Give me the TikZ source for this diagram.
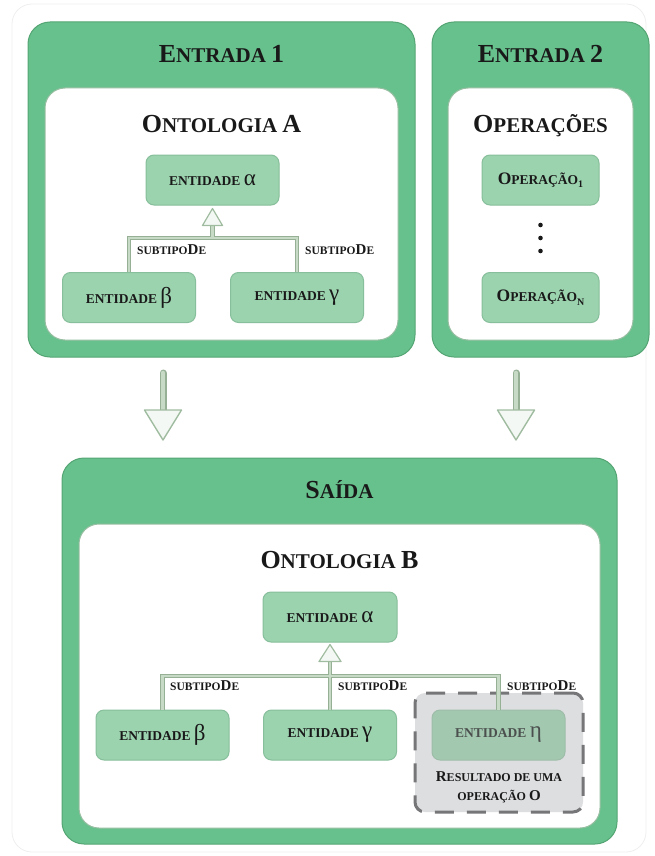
\documentclass[tikz,border=0pt]{standalone}
\usepackage{fontspec}
\setmainfont{Liberation Serif}
\usetikzlibrary{calc}

\definecolor{panelgreen}{RGB}{103,193,141}
\definecolor{paneledge}{RGB}{84,165,115}
\definecolor{whiteedge}{RGB}{150,190,160}
\definecolor{boxgreen}{RGB}{156,211,175}
\definecolor{boxedge}{RGB}{135,190,155}
\definecolor{etagreen}{RGB}{163,200,176}
\definecolor{connout}{RGB}{150,176,150}
\definecolor{connin}{RGB}{198,218,198}
\definecolor{headfill}{RGB}{244,248,244}
\definecolor{headedge}{RGB}{160,188,160}
\definecolor{resgray}{RGB}{221,222,224}
\definecolor{dashgray}{RGB}{118,118,120}
\definecolor{inktext}{RGB}{25,25,25}
\definecolor{etatext}{RGB}{75,80,78}
\definecolor{framegray}{RGB}{238,238,238}

% size switch used for the hand-made small caps
\newcommand\fsz[1]{\fontsize{#1}{#1}\selectfont}
% panel titles: capital letter large, the rest in small caps
\newcommand\ttl[2]{{\fsz{26}#1}#2}

\tikzset{
  panel/.style={fill=panelgreen, draw=paneledge, line width=1pt,
    rounded corners=22pt, inner sep=0pt, outer sep=0pt},
  inner/.style={fill=white, draw=whiteedge, line width=1pt,
    rounded corners=20pt, inner sep=0pt, outer sep=0pt},
  title/.style={text=inktext, font=\bfseries\fsz{21}, anchor=base},
  entbox/.style={fill=boxgreen, draw=boxedge, line width=1pt,
    rounded corners=8pt, minimum width=133pt, minimum height=50pt,
    inner sep=0pt, text=inktext, font=\bfseries\fsz{13.5}},
  rellabel/.style={text=inktext, font=\bfseries\fsz{11.5}, anchor=base west,
    inner sep=0pt},
  connout/.style={draw=connout, line width=4.6pt},
  connin/.style={draw=connin, line width=2.4pt},
  smallhead/.style={fill=headfill, draw=headedge, line width=1.2pt, line join=round},
  bigstemout/.style={draw=connout, line width=7pt, line cap=round},
  bigstemin/.style={draw=connin, line width=4.6pt, line cap=round},
  bighead/.style={fill=headfill, draw=headedge, line width=1.4pt, line join=round},
}

\newcommand\ent[1]{ENTIDADE {\mdseries\fsz{23}#1}}
\newcommand\subde{SUBTIPO{\fsz{15}D}E}
\newcommand\oper[1]{{\fsz{17.5}O}PERAÇÃO\raisebox{-3.5pt}{\fsz{10}#1}}

\begin{document}
\begin{tikzpicture}[x=1pt,y=-1pt]
\useasboundingbox (0,0) rectangle (654,856);

% faint outer frame
\draw[framegray, line width=.8pt, rounded corners=20pt] (12,4) rectangle (646,852);

% ---------------- input 1 ----------------
\node[panel, minimum width=387pt, minimum height=335pt] (e1) at (221.5,189.5) {};
\node[inner, minimum width=353pt, minimum height=252pt] (e1in) at (221.5,214) {};
\node[title] (e1t) at (221.5,63) {\ttl{E}{NTRADA} {\fsz{26}1}};
\node[title] (ontA) at (221.5,132) {\ttl{O}{NTOLOGIA} {\fsz{26}A}};

\node[entbox] (aa) at (212.5,180) {\ent{α}};
\node[entbox] (ab) at (129,297.5) {\ent{β}};
\node[entbox] (ag) at (297,297.5) {\ent{γ}};

\coordinate (aj) at (212.5,238);
\coordinate (abase) at ($(aa.south)+(0,20)$);
\draw[connout] (ab.north) |- (aj) -| (ag.north);
\draw[connout] (aj) -- (abase);
\draw[connin] (ab.north) |- (aj) -| (ag.north);
\draw[connin] (aj) -- (abase);
\draw[smallhead] ($(aa.south)+(0,3)$) -- ($(abase)+(10,0)$) -- ($(abase)+(-10,0)$) -- cycle;

\node[rellabel] (al1) at (137,254) {\subde};
\node[rellabel] (al2) at (305,254) {\subde};

% ---------------- input 2 ----------------
\node[panel, minimum width=217pt, minimum height=335pt] (e2) at (540.5,189.5) {};
\node[inner, minimum width=185pt, minimum height=252pt] (e2in) at (540.5,214) {};
\node[title] (e2t) at (540.5,63) {\ttl{E}{NTRADA} {\fsz{26}2}};
\node[title] (ops) at (540.5,132) {\ttl{O}{PERAÇÕES}};

\node[entbox, minimum width=117pt] (op1) at (540.5,180) {\oper{1}};
\node[entbox, minimum width=117pt] (opn) at (540.5,297.5) {\oper{N}};
\foreach \yy in {225,238,251} \fill[inktext] (540.5,\yy) circle (2.3pt);

% ---------------- flow arrows ----------------
\coordinate (d1a) at (163,373);
\coordinate (d1b) at (163,410);
\coordinate (d2a) at (516,373);
\coordinate (d2b) at (516,410);
\foreach \a/\b in {d1a/d1b, d2a/d2b}{
  \draw[bigstemout] (\a) -- (\b);
  \draw[bigstemin] (\a) -- (\b);
  \draw[bighead] ($(\b)+(-18.5,0)$) -- ($(\b)+(18.5,0)$) -- ($(\b)+(0,30)$) -- cycle;
}

% ---------------- output ----------------
\node[panel, minimum width=555pt, minimum height=386pt] (out) at (339.5,651) {};
\node[inner, minimum width=521pt, minimum height=304pt] (outin) at (339.5,676) {};
\node[title] (outt) at (339.5,498) {\ttl{S}{AÍDA}};
\node[title] (ontB) at (339.5,568) {\ttl{O}{NTOLOGIA} {\fsz{26}B}};

% result of an operation
\node[fill=resgray, draw=dashgray, line width=3pt, dash pattern=on 19pt off 13pt,
  rounded corners=10pt, minimum width=168pt, minimum height=119pt,
  inner sep=0pt] (res) at (499,752.5) {};

\node[entbox, minimum width=134pt] (ba) at (330,617) {\ent{α}};
\node[entbox] (bb) at (162.5,735) {\ent{β}};
\node[entbox] (bg) at (330,735) {\ent{γ}};
\node[entbox, fill=etagreen, draw=etagreen!85!gray, text=etatext] (be) at (498.5,735) {\ent{η}};

\coordinate (bj) at (330,676);
\coordinate (bbase) at ($(ba.south)+(0,19)$);
\draw[connout] (bb.north) |- (bj) -| (be.north);
\draw[connout] (bg.north) -- (bbase);
\draw[connin] (bb.north) |- (bj) -| (be.north);
\draw[connin] (bg.north) -- (bbase);
\draw[smallhead] ($(ba.south)+(0,2)$) -- ($(bbase)+(11,0)$) -- ($(bbase)+(-11,0)$) -- cycle;

\node[rellabel] (bl1) at (170,690) {\subde};
\node[rellabel] (bl2) at (338,690) {\subde};
\node[rellabel] (bl3) at (507,690) {\subde};

\node[text=inktext, font=\bfseries\fontsize{12}{19}\selectfont, align=center, anchor=base]
  (restxt) at (499,800) {{\fsz{15}R}ESULTADO DE UMA\\OPERAÇÃO {\fsz{15}O}};
\end{tikzpicture}
\end{document}
